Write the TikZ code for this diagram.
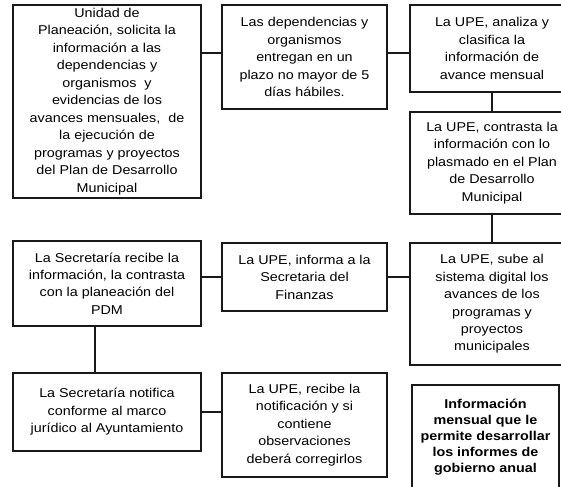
\documentclass[tikz,border=0pt]{standalone}
\usepackage{fontspec}
\setmainfont{Liberation Sans}[FakeStretch=1.12]
\usetikzlibrary{positioning}

\begin{document}
\begin{tikzpicture}[x=0.75pt,y=-0.75pt,
    paso/.style={draw=black!90,line width=1pt,align=center,inner sep=0pt,
      font=\fontsize{9.6}{13.1}\selectfont},
    enlace/.style={draw=black!90,line width=1pt}]
  \def\Xa{107};
  \def\Xb{304.5};
  \def\Xc{492};
  \useasboundingbox (0,0) rectangle (561,486);
  \clip (0,0) rectangle (561,486);

        \node[paso, minimum width=141pt, minimum height=144.75pt] (solicita) at (\Xa, 101.5)
          {Unidad de\\ Planeación, solicita la\\ información a las\\ dependencias y\\ organismos\ \ y\\
           evidencias de los\\ avances mensuales,\ \ de\\ la ejecución de\\ programas y proyectos\\
           del Plan de Desarrollo\\ Municipal};
        \node[paso, minimum width=123.75pt, minimum height=78pt] (entregan) at (\Xb, 57)
          {Las dependencias y\\ organismos\\ entregan en un\\ plazo no mayor de 5\\ días hábiles.};
        \node[paso, minimum width=123pt, minimum height=65.25pt] (analiza) at (\Xc, 48.5)
          {La UPE, analiza y\\ clasifica la\\ información de\\ avance mensual};
        \node[paso, minimum width=123pt, minimum height=76.5pt] (contrasta) at (\Xc, 163)
          {La UPE, contrasta la\\ información con lo\\ plasmado en el Plan\\ de Desarrollo\\ Municipal};
        \node[paso, minimum width=123pt, minimum height=91.5pt] (sube) at (\Xc, 304)
          {La UPE, sube al\\ sistema digital los\\ avances de los\\ programas y\\ proyectos\\ municipales};
        \node[paso, minimum width=123.75pt, minimum height=51pt] (informa) at (\Xb, 277)
          {La UPE, informa a la\\ Secretaria del\\ Finanzas};
        \node[paso, minimum width=141pt, minimum height=63.75pt] (recibe) at (\Xa, 283.5)
          {La Secretaría recibe la\\ información, la contrasta\\ con la planeación del\\ PDM};
        \node[paso, minimum width=141pt, minimum height=58.5pt] (notifica) at (\Xa, 412)
          {La Secretaría notifica\\ conforme al marco\\ jurídico al Ayuntamiento};
        \node[paso, minimum width=123.75pt, minimum height=78pt] (corrige) at (\Xb, 425)
          {La UPE, recibe la\\ notificación y si\\ contiene\\ observaciones\\ deberá corregirlos};
        \node[paso, minimum width=110.25pt, minimum height=78pt, font=\fontsize{9.6}{12}\selectfont\bfseries]
          (anual) at (485.5, 437)
          {Información\\ mensual que le\\ permite desarrollar\\ los informes de\\ gobierno anual};

	\draw[enlace] ([yshift=3pt]entregan.west) -- ([yshift=3pt]entregan.west -| solicita.east);
	\draw[enlace] ([yshift=3pt]entregan.east) -- ([yshift=3pt]entregan.east -| analiza.west);
	\draw[enlace] (analiza.south) -- (contrasta.north);
	\draw[enlace] (contrasta.south) -- (sube.north);
	\draw[enlace] (informa.east) -- (informa.east -| sube.west);
	\draw[enlace] (informa.west) -- (informa.west -| recibe.east);
	\draw[enlace] ([xshift=-9pt]recibe.south) -- ([xshift=-9pt]recibe.south |- notifica.north);
	\draw[enlace] (notifica.east) -- (notifica.east -| corrige.west);
\end{tikzpicture}
\end{document}
